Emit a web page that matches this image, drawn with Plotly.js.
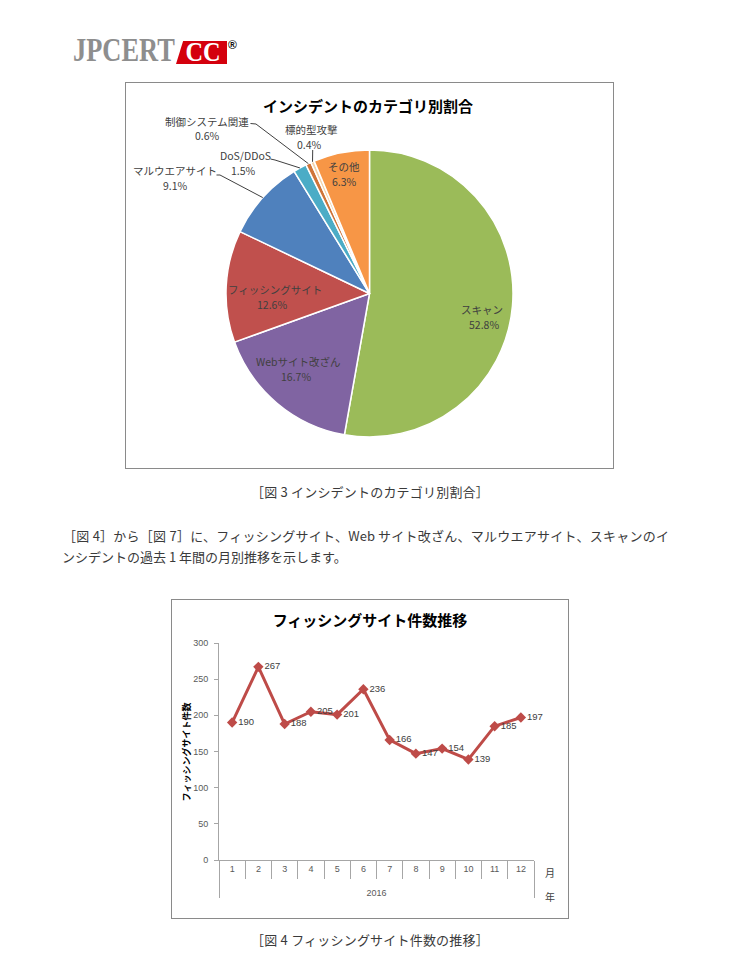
<!DOCTYPE html>
<html>
<head>
<meta charset="utf-8">
<script src="https://cdn.plot.ly/plotly-3.0.1.min.js"></script>
<style>
  html, body { margin:0; padding:0; background:#fff; }
  body { width:740px; height:955px; position:relative; overflow:hidden; }
  .txt { position:absolute; font-family:"Noto Sans CJK JP","Noto Sans",sans-serif; color:#3a3a3a; white-space:nowrap; line-height:20px; }
  .box { position:absolute; border:1px solid #8a8a8a; background:#fff; }
</style>
</head>
<body>

<!-- logo -->
<div style="position:absolute;left:73px;top:34px;font:bold 33px 'Liberation Serif',serif;line-height:33px;color:#8e8e8e;transform:scaleX(0.80);transform-origin:left top;white-space:nowrap;">JPCERT</div>
<div style="position:absolute;left:176px;top:41px;width:51px;height:23px;background:#d4000d;clip-path:polygon(14% 0,100% 0,100% 100%,0 100%);"></div>
<div style="position:absolute;left:180px;top:37px;width:46px;text-align:center;font:bold 27px 'Liberation Serif',serif;line-height:30px;color:#fff;transform:scaleX(0.9);">CC</div>
<div style="position:absolute;left:228px;top:38px;font:bold 12px 'Liberation Sans',sans-serif;color:#111;">®</div>

<!-- pie chart -->
<div class="box" style="left:125px;top:82px;width:487px;height:385px;"><div id="pie" style="width:487px;height:385px;"></div></div>

<div class="txt" style="left:0;width:740px;top:482px;text-align:center;font-size:13px;letter-spacing:0.2px;">［図 3 インシデントのカテゴリ別割合］</div>

<div class="txt" style="left:63px;width:606px;top:526px;font-size:13px;text-align:justify;text-align-last:justify;white-space:normal;">［図 4］から［図 7］に、フィッシングサイト、Web サイト改ざん、マルウエアサイト、スキャンのイ</div>
<div class="txt" style="left:62px;top:547px;font-size:13px;">ンシデントの過去 1 年間の月別推移を示します。</div>

<!-- line chart -->
<div class="box" style="left:171px;top:599px;width:396px;height:318px;"><div id="line" style="width:396px;height:318px;"></div></div>

<div class="txt" style="left:0;width:740px;top:930px;text-align:center;font-size:13px;letter-spacing:0.2px;">［図 4 フィッシングサイト件数の推移］</div>

<script>
// ---------------- data ----------------
const pieLabels = ['スキャン','Webサイト改ざん','フィッシングサイト','マルウエアサイト','DoS/DDoS','制御システム関連','標的型攻撃','その他'];
const pieValues = [52.8, 16.7, 12.6, 9.1, 1.5, 0.6, 0.4, 6.3];
const pieColors = ['#9BBB59','#8064A2','#C0504D','#4F81BD','#4BACC6','#CF7438','#F3D3AB','#F79646'];

const years  = ['2016','2016','2016','2016','2016','2016','2016','2016','2016','2016','2016','2016'];
const months = ['1','2','3','4','5','6','7','8','9','10','11','12'];
const phishing = [190, 267, 188, 205, 201, 236, 166, 147, 154, 139, 185, 197];

// ---------------- pie ----------------
const JP = '"Noto Sans CJK JP","Noto Sans",sans-serif';
const PW = 487, PH = 385, OX = 126, OY = 83;
const px = X => (X - OX) / PW;
const py = Y => 1 - (Y - OY) / PH;
const CX = 369.5, CY = 293.5, R = 143.5;

// label name line / value line positions (page px), in pieLabels order
const namePos  = [[482,309.5],[298,361],[275,289.5],[175,170.5],[245,155.8],[207,121],[311.5,129.3],[344,166.5]];
const valuePos = [[484,324.5],[296,376],[272,304.5],[175,185.5],[243.5,170.5],[207,136],[309,144.2],[344,181.5]];
// leader-line start points for outside labels (index -> points)
const leaderStart = {3:[[216.5,175],[220,175]], 4:[[270.5,159],[275,160]], 5:[[250.5,123.5],[256,124]], 6:[[312.7,150]]};

const annotations = [];
pieLabels.forEach((lab, i) => {
  annotations.push({
    x: px(namePos[i][0]), y: py(namePos[i][1]), xref:'paper', yref:'paper',
    text: lab, showarrow:false, xanchor:'center', yanchor:'middle',
    font:{family:JP, size:10.5, color:'#404040'}
  });
  annotations.push({
    x: px(valuePos[i][0]), y: py(valuePos[i][1]), xref:'paper', yref:'paper',
    text: pieValues[i].toFixed(1) + '%', showarrow:false, xanchor:'center', yanchor:'middle',
    font:{family:JP, size:10.5, color:'#404040'}
  });
});
annotations.push({
  x:px(368), y:py(105), xref:'paper', yref:'paper', showarrow:false,
  text:'<b>インシデントのカテゴリ別割合</b>', xanchor:'center', yanchor:'middle',
  font:{family:JP, size:15, color:'#000'}
});

// leader lines end at slice mid-angle on the rim
const total = pieValues.reduce((a,b)=>a+b,0);
const shapes = [];
let cum = 0;
pieValues.forEach((v,i) => {
  const mid = (cum + v/2) / total * 2 * Math.PI;
  cum += v;
  if (leaderStart[i]) {
    const end = [CX + R*Math.sin(mid), CY - R*Math.cos(mid)];
    const pts = leaderStart[i].concat([end]);
    const path = pts.map((p,k)=> (k? 'L':'M') + px(p[0]).toFixed(4) + ',' + py(p[1]).toFixed(4)).join(' ');
    shapes.push({type:'path', xref:'paper', yref:'paper', path, line:{color:'#404040', width:1}});
  }
});

Plotly.newPlot('pie', [{
  type:'pie', labels:pieLabels, values:pieValues, sort:false, direction:'clockwise', rotation:0,
  marker:{colors:pieColors, line:{color:'#fff', width:1.5}},
  textinfo:'none', hoverinfo:'label+percent', showlegend:false,
  domain:{x:[(CX-R-OX)/PW, (CX+R-OX)/PW], y:[py(CY+R), py(CY-R)]}
}], {
  width:PW, height:PH, margin:{l:0,r:0,t:0,b:0},
  paper_bgcolor:'#fff', showlegend:false, annotations, shapes
}, {displayModeBar:false, staticPlot:true});

// ---------------- line ----------------
const NUM = '"Liberation Sans","Noto Sans CJK JP",sans-serif';
// an empty second line under each month label leaves room above the year label
const monthTicks = months.map(m => m + '<br>\u00a0');
Plotly.newPlot('line', [{
  type:'scatter', mode:'lines+markers+text',
  x:[years, monthTicks], y:phishing,
  text: phishing.map(String), textposition:'middle right',
  textfont:{family:NUM, size:9.5, color:'#404040'},
  line:{color:'#BE4B48', width:3},
  marker:{symbol:'diamond', size:8, color:'#BE4B48'},
  cliponaxis:false, showlegend:false
}], {
  width:396, height:318,
  margin:{l:47, r:34, t:43, b:58},
  paper_bgcolor:'#fff', plot_bgcolor:'#fff',
  title:{text:'<b>フィッシングサイト件数推移</b>', font:{family:JP, size:15, color:'#000'},
         x:0.5, xanchor:'center', y:1-20.7/318, yanchor:'middle', yref:'container'},
  xaxis:{type:'multicategory', range:[-0.5, months.length-0.5], showgrid:false, showline:true, linecolor:'#a6a6a6', linewidth:1,
         ticks:'outside', tickson:'boundaries', ticklen:18, tickcolor:'#a6a6a6',
         ticklabelstandoff:0,
         showdividers:true, dividercolor:'#a6a6a6', dividerwidth:1,
         tickfont:{family:NUM, size:9, color:'#595959'}, fixedrange:true},
  yaxis:{range:[0,300], dtick:50, showgrid:false, zeroline:false, showline:true, linecolor:'#a6a6a6',
         ticks:'outside', ticklen:4, tickcolor:'#a6a6a6', ticklabelstandoff:4,
         tickfont:{family:NUM, size:9, color:'#595959'}, fixedrange:true},
  annotations:[
    {x:1.0508, y:-0.0599, xref:'paper', yref:'paper', text:'月', showarrow:false, xanchor:'center', yanchor:'middle', font:{family:JP,size:10,color:'#404040'}},
    {x:1.0508, y:-0.1705, xref:'paper', yref:'paper', text:'年', showarrow:false, xanchor:'center', yanchor:'middle', font:{family:JP,size:10,color:'#404040'}},
    {x:-0.1025, y:0.499, xref:'paper', yref:'paper', text:'<b>フィッシングサイト件数</b>', textangle:-90, showarrow:false, xanchor:'center', yanchor:'middle', font:{family:JP,size:9,color:'#000'}}
  ]
}, {displayModeBar:false, staticPlot:true});
</script>
</body>
</html>
